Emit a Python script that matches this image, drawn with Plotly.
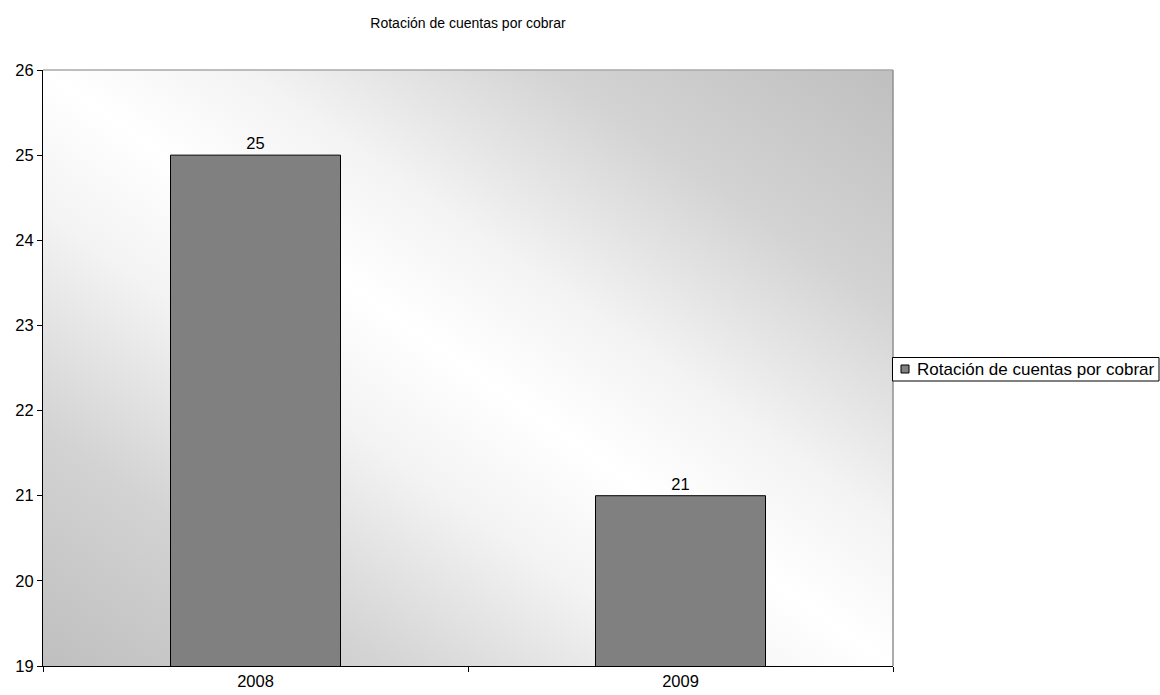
import base64
import plotly.graph_objects as go

# Data
categories = ["2008", "2009"]
values = [25, 21]
series_name = "Rotación de cuentas por cobrar"
chart_title = "Rotación de cuentas por cobrar"
y_ticks = [19, 20, 21, 22, 23, 24, 25, 26]

# Figure geometry (pixels)
W, H = 1160, 695
ML, MR, MT, MB = 43, 267, 70, 29
PW, PH = W - ML - MR, H - MT - MB

# Diagonal gradient for the plot background (gray corners, soft white band through the middle)
stops = [(0.0, "#bfbfbf"), (0.2, "#d3d3d3"), (0.38, "#f3f3f3"), (0.5, "#ffffff"),
         (0.62, "#f3f3f3"), (0.8, "#d3d3d3"), (1.0, "#bfbfbf")]
stop_tags = "".join(f'<stop offset="{o}" stop-color="{c}"/>' for o, c in stops)
svg = (
    f'<svg xmlns="http://www.w3.org/2000/svg" width="{PW}" height="{PH}" preserveAspectRatio="none">'
    f'<defs><linearGradient id="g" x1="0" y1="1" x2="1" y2="0">{stop_tags}</linearGradient></defs>'
    f'<rect width="{PW}" height="{PH}" fill="url(#g)"/></svg>'
)
bg_uri = "data:image/svg+xml;base64," + base64.b64encode(svg.encode()).decode()

font_family = "Liberation Sans, Arial, sans-serif"


def px_x(px):
    """Pixel column -> plot-area paper coordinate."""
    return (px - ML) / PW


def px_y(py):
    """Pixel row -> plot-area paper coordinate."""
    return (H - MB - py) / PH


fig = go.Figure()
fig.add_trace(go.Bar(
    x=categories,
    y=values,
    name=series_name,
    marker=dict(color="#808080", line=dict(color="#000000", width=1)),
    width=0.4,
    text=[str(v) for v in values],
    textposition="outside",
    textfont=dict(size=16.5, color="#000000", family=font_family),
    showlegend=False,
))

fig.update_layout(
    width=W,
    height=H,
    margin=dict(l=ML, r=MR, t=MT, b=MB),
    paper_bgcolor="#ffffff",
    plot_bgcolor="rgba(0,0,0,0)",
    font=dict(family=font_family, size=16.5, color="#000000"),
    title=dict(
        text=chart_title,
        x=(ML + ML + PW) / 2 / W,
        xanchor="center",
        y=1 - 23 / H,
        yanchor="middle",
        font=dict(size=14, color="#000000", family=font_family),
    ),
    images=[dict(
        source=bg_uri,
        xref="paper", yref="paper",
        x=0, y=1, sizex=1, sizey=1,
        xanchor="left", yanchor="top",
        sizing="stretch",
        layer="below",
    )],
    showlegend=False,
    xaxis=dict(
        type="category",
        range=[-0.5, 1.5],
        tickson="boundaries",
        ticks="outside",
        ticklen=5,
        tickcolor="#000000",
        showline=True,
        linecolor="#000000",
        linewidth=1,
        showgrid=False,
        automargin=False,
        tickfont=dict(size=16.5),
    ),
    yaxis=dict(
        range=[19, 26],
        tickvals=y_ticks,
        ticks="outside",
        ticklen=5,
        tickcolor="#000000",
        showline=True,
        linecolor="#000000",
        linewidth=1,
        showgrid=False,
        zeroline=False,
        automargin=False,
        tickfont=dict(size=16.5),
    ),
)

# Gray frame along the top and right of the plot area
fig.add_shape(type="line", xref="paper", yref="paper", x0=0, x1=1, y0=1, y1=1,
              line=dict(color="#a8a8a8", width=1.5))
fig.add_shape(type="line", xref="paper", yref="paper", x0=1, x1=1, y0=0, y1=1,
              line=dict(color="#909090", width=1.5))

# Legend box with a swatch and the series name
fig.add_shape(type="rect", xref="paper", yref="paper",
              x0=px_x(892.5), x1=px_x(1159), y0=px_y(381), y1=px_y(357.5),
              line=dict(color="#000000", width=1), fillcolor="#ffffff")
fig.add_shape(type="rect", xref="paper", yref="paper",
              x0=px_x(901), x1=px_x(909), y0=px_y(373), y1=px_y(365),
              line=dict(color="#000000", width=1), fillcolor="#808080")
fig.add_annotation(
    text=series_name, xref="paper", yref="paper",
    x=px_x(915), y=px_y(369.5), xanchor="left", yanchor="middle",
    showarrow=False, font=dict(size=17, color="#000000", family=font_family),
)

fig.write_html("out.html")
